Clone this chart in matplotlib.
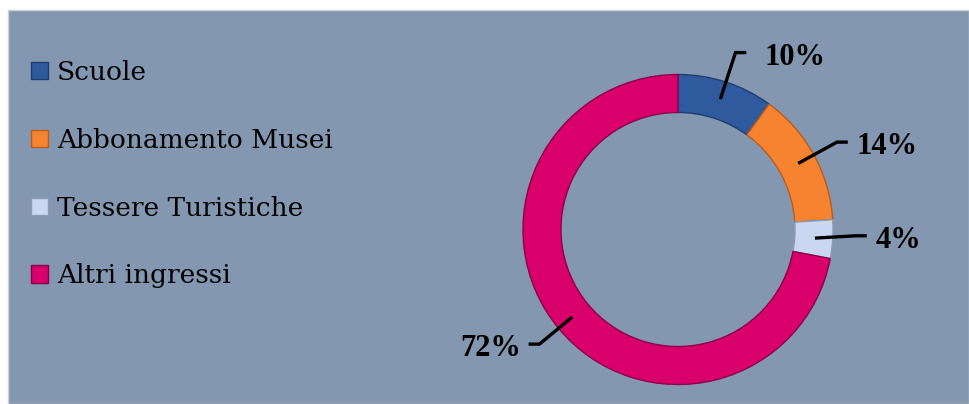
import numpy as np
import matplotlib.pyplot as plt
from matplotlib.patches import Rectangle

labels = ["Scuole", "Abbonamento Musei", "Tessere Turistiche", "Altri ingressi"]
values = [10, 14, 4, 72]
pct_text = ["10%", "14%", "4%", "72%"]
colors = ["#2f5a9e", "#f5832f", "#c9d8f0", "#d9006c"]
edges = ["#1f3e70", "#b95c1c", "#8e9cb4", "#8c0048"]

W, H = 969, 404
fig = plt.figure(figsize=(W / 100, H / 100), dpi=100)

# blue-grey plot area
fig.patches.append(Rectangle((8 / W, 0), 1 - 8 / W, 1 - 10 / H, transform=fig.transFigure,
                             facecolor="#8497b0", edgecolor="#d0d0d0", lw=1, zorder=-5))

# donut centre at (678, 229.5) px, radius 155 px
cx, cy, R = 678, 229.5, 155
ax = fig.add_axes([0, 0, 1, 1], zorder=2)
wedges, _ = ax.pie(values, colors=colors, startangle=90, counterclock=False, radius=1,
                   wedgeprops=dict(width=0.245, linewidth=1.0))
for w, ec in zip(wedges, edges):
    w.set_edgecolor(ec)
ax.set_aspect("auto")
ax.set_xlim(-cx / R, (W - cx) / R)
ax.set_ylim((cy - H) / R, cy / R)
ax.axis("off")

# leader lines and labels
elbow_r = [1.20, 1.17, 1.15, 1.16]
side = [1, 1, 1, -1]
gap = [0.12, 0.055, 0.055, 0.05]
start = 90
for v, t, er, s, g in zip(values, pct_text, elbow_r, side, gap):
    mid = np.deg2rad(start - v * 3.6 / 2)
    start -= v * 3.6
    x0, y0 = 0.885 * np.cos(mid), 0.885 * np.sin(mid)
    x1, y1 = er * np.cos(mid), er * np.sin(mid)
    if t == "4%":
        y1 = y0 + 0.015
    x2 = x1 + s * 0.07
    ax.plot([x0, x1, x2], [y0, y1, y1], color="black", lw=2.4, solid_capstyle="butt",
            solid_joinstyle="miter", zorder=5)
    ax.text(x2 + s * g, y1 - 0.03, t, ha="left" if s > 0 else "right", va="center",
            fontsize=22, fontweight="bold", family="Liberation Serif", color="black")

leg = fig.legend(wedges, labels, loc="upper left", bbox_to_anchor=(31 / W, 1 - 60 / H),
                 frameon=False, borderpad=0, borderaxespad=0, handlelength=0.63,
                 handleheight=0.63, handletextpad=0.35, labelspacing=1.62,
                 prop=dict(family="DejaVu Serif", size=19))

fig.savefig("out.png", dpi=100)
